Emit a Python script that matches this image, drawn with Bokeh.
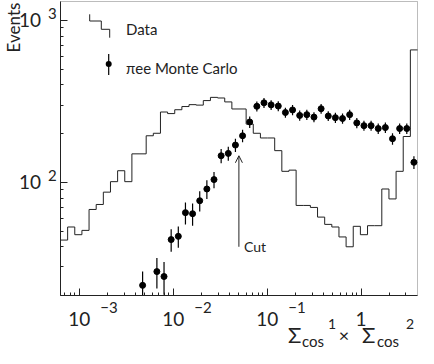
import numpy as np
from bokeh.plotting import figure
from bokeh.models import (FixedTicker, Label, Arrow, OpenHead, BoxAnnotation, Range1d)
from bokeh.embed import file_html
from bokeh.resources import INLINE

# ---------------- data ----------------
LOG_X_MIN, LOG_X_MAX, N_BINS = -3.2, 0.6, 50
Y_MIN, Y_MAX = 20, 1310

data_counts = [44, 53, 47.5, 50.5, 68, 73, 87, 101, 118, 101,
               150, 150, 194, 201, 272, 266, 281, 294, 302, 300,
               320, 335, 332, 314, 284, 284, 229, 201, 188, 188,
               157, 117, 119, 72, 72, 70, 61, 55, 53, 46,
               40, 53.5, 47.5, 54, 54, 91, 79, 117, 192, 658]

mc_bins = [11, 13, 14, 15, 16, 17, 18, 19, 20, 21, 22, 23, 24, 25, 26, 27, 28, 29, 30,
           31, 32, 33, 34, 35, 36, 37, 38, 39, 40, 41, 42, 43, 44, 45, 46, 47, 48, 49]
mc_counts = [23.1, 28.1, 26.2, 44.3, 46.4, 65, 64, 77, 91, 104, 146, 151, 170, 194, 236, 295, 310, 301, 296,
             270, 280, 259, 262, 253, 285, 257, 251, 248, 262, 233, 224, 224, 215, 218, 186, 215, 215, 133]
mc_errors = [5, 6, 6, 7, 7, 10, 10, 11, 12, 12, 15, 15, 16, 17, 19, 21, 22, 21, 21,
             19, 20, 19, 19, 18, 20, 18, 18, 18, 19, 17, 16, 16, 16, 16, 15, 16, 16, 12]

cut_value = 0.05
cut_arrow_bottom, cut_arrow_top = 40, 146

x_major = [1e-3, 1e-2, 1e-1, 1]
x_tick_base = ["10", "10", "10", "1"]
x_tick_exp = ["\u22123", "\u22122", "\u22121", ""]
y_major = [100, 1000]
y_tick_base = ["10", "10"]
y_tick_exp = ["2", "3"]

# ---------------- layout / style ----------------
FONT = "Lato"
TXT = "#222222"
LINE = "#222222"
W, H = 418, 348
BOX_L, BOX_R, BOX_T, BOX_B = 60, 417, 1, 295   # plot box inside the canvas (px)

log_edges = np.linspace(LOG_X_MIN, LOG_X_MAX, N_BINS + 1)
edges = 10 ** log_edges
centers = 10 ** ((log_edges[:-1] + log_edges[1:]) / 2)

# view ranges so that the data box sits at BOX_* while the frame fills the canvas
ppd_x = (BOX_R - BOX_L) / (LOG_X_MAX - LOG_X_MIN)
ly0, ly1 = np.log10(Y_MIN), np.log10(Y_MAX)
ppd_y = (BOX_B - BOX_T) / (ly1 - ly0)
x_view = Range1d(10 ** (LOG_X_MIN - BOX_L / ppd_x), 10 ** (LOG_X_MAX + (W - BOX_R) / ppd_x))
y_view = Range1d(10 ** (ly0 - (H - BOX_B) / ppd_y), 10 ** (ly1 + BOX_T / ppd_y))

p = figure(width=W, height=H, x_axis_type="log", y_axis_type="log",
           x_range=x_view, y_range=y_view,
           output_backend="svg", toolbar_location=None, min_border=0)
p.grid.visible = False
p.outline_line_color = None
p.background_fill_color = "white"
p.border_fill_color = "white"

x_minor = [k * 10.0 ** n for n in range(-4, 1) for k in range(2, 10)
           if edges[0] <= k * 10.0 ** n <= edges[-1]]
y_minor = [k * 10.0 ** n for n in range(1, 3) for k in range(2, 10)]
p.xaxis.ticker = FixedTicker(ticks=x_major, minor_ticks=x_minor)
p.yaxis.ticker = FixedTicker(ticks=y_major, minor_ticks=y_minor)
p.xaxis.fixed_location = Y_MIN
p.yaxis.fixed_location = edges[0]
p.xaxis.bounds = (edges[0], edges[-1])
p.yaxis.bounds = (Y_MIN, Y_MAX)
for ax in (p.xaxis[0], p.yaxis[0]):
    ax.major_tick_in = 7
    ax.major_tick_out = 0
    ax.minor_tick_in = 3
    ax.minor_tick_out = 0
    ax.axis_line_color = LINE
    ax.major_tick_line_color = LINE
    ax.minor_tick_line_color = LINE
    ax.major_label_text_font_size = "0px"
    ax.major_label_text_color = None

# plot box
p.add_layout(BoxAnnotation(left=edges[0], right=edges[-1], bottom=Y_MIN, top=Y_MAX,
                           fill_color=None, line_color=LINE, line_width=1, level="underlay"))

# histogram (data)
p.step(x=list(edges), y=data_counts + [data_counts[-1]], mode="after",
       line_color=LINE, line_width=1)

# Monte Carlo points with error bars (lower ends clipped at the box bottom)
mc_x = [centers[i] for i in mc_bins]
mc_lo = [max(c - e, Y_MIN) for c, e in zip(mc_counts, mc_errors)]
mc_hi = [c + e for c, e in zip(mc_counts, mc_errors)]
p.segment(x0=mc_x, y0=mc_lo, x1=mc_x, y1=mc_hi, line_color="black", line_width=1.2)
p.scatter(x=mc_x, y=mc_counts, size=6, fill_color="black", line_color="black")

# cut arrow
p.add_layout(Arrow(end=OpenHead(size=7, line_color=LINE, line_width=1),
                   x_start=cut_value, y_start=cut_arrow_bottom,
                   x_end=cut_value, y_end=cut_arrow_top,
                   line_color=LINE, line_width=1))


def lab(text, x, y, size, xu="screen", yu="screen", align="left", baseline="middle",
        angle=0, x_offset=0, y_offset=0):
    p.add_layout(Label(text=text, x=x, y=y, x_units=xu, y_units=yu,
                       text_font=FONT, text_font_size=f"{size}px",
                       text_color=TXT, text_align=align, text_baseline=baseline,
                       angle=angle, x_offset=x_offset, y_offset=y_offset))


lab("Cut", cut_value, cut_arrow_bottom, 14, xu="data", yu="data",
    baseline="alphabetic", x_offset=5)

# tick labels (positions from the axis scales)
for t, b, e in zip(x_major, x_tick_base, x_tick_exp):
    lab(b, t, 30, 19, xu="data", align="center")
    if e:
        lab(e, t, 41, 15, xu="data", x_offset=21)
for t, b, e in zip(y_major, y_tick_base, y_tick_exp):
    lab(b, 40.5, t, 19, yu="data", align="right")
    lab(e, 47.5, t, 15, yu="data", y_offset=7)

# axis titles
lab("Events", 13, 321, 17, align="center", angle=np.pi / 2)
lab("\u03a3", 287.5, 14.5, 22)
lab("cos", 301.5, 8, 15)
lab("1", 327.5, 25, 14)
lab("\u00d7", 343.5, 14, 18, align="center")
lab("\u03a3", 361.5, 14.5, 22)
lab("cos", 376.5, 8, 15)
lab("2", 405.5, 25, 14)

# legend
step_pts = [(89.2, 334.2), (89.2, 327.5), (100.8, 327.5), (100.8, 319.2), (109.2, 319.2), (109.2, 310.8)]
for (x0, y0), (x1, y1) in zip(step_pts[:-1], step_pts[1:]):
    p.add_layout(Arrow(end=None, x_start=x0, y_start=y0, x_end=x1, y_end=y1,
                       start_units="screen", end_units="screen",
                       line_color=LINE, line_width=1))
lab("Data", 125.5, 319.5, 15)
p.add_layout(Arrow(end=None, x_start=108.2, y_start=273.5, x_end=108.2, y_end=294.5,
                   start_units="screen", end_units="screen", line_color="black", line_width=1.2))
p.add_layout(BoxAnnotation(left=105.2, right=111.2, bottom=281.5, top=287.5,
                           left_units="screen", right_units="screen",
                           top_units="screen", bottom_units="screen",
                           fill_color="black", fill_alpha=1, line_color=None,
                           border_radius=3))
lab("\u03c0ee Monte Carlo", 125.5, 280.5, 15)

open("out.html", "w").write(file_html(p, INLINE))
